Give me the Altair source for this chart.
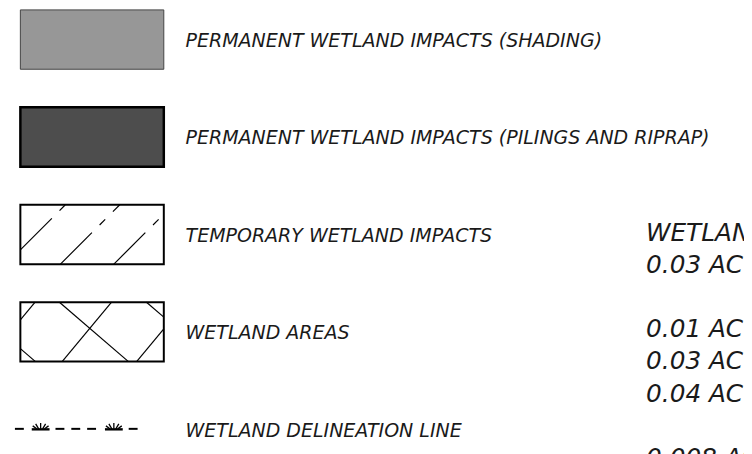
import math
import altair as alt
import pandas as pd

# ---------------- data ----------------
labels = [
    "PERMANENT WETLAND IMPACTS (SHADING)",
    "PERMANENT WETLAND IMPACTS (PILINGS AND RIPRAP)",
    "TEMPORARY WETLAND IMPACTS",
    "WETLAND AREAS",
    "WETLAND DELINEATION LINE",
]
kinds = ["shade", "solid", "hatch", "cross", "line"]

summary_lines = [
    "WETLAND IMPACTS",
    "0.03 AC PERMANENT (SHADING)",
    "",
    "0.01 AC PERMANENT (PILINGS AND RIPRAP)",
    "0.03 AC TEMPORARY",
    "0.04 AC TOTAL",
    "",
    "0.008 AC WETLAND DELINEATION",
]

# ---------------- layout (page pixel units) ----------------
W, H = 744, 446
ROW0, ROW_STEP = 37.5, 98.5
BOX_L, BOX_R, BOX_HALF = 20.5, 165.5, 30.0
LABEL_X = 187.5
SUM_X, SUM_Y0, SUM_STEP = 653.0, 233.0, 32.5

fills = {"shade": "#979797", "solid": "#4d4d4d", "hatch": "#ffffff", "cross": "#ffffff"}
strokes = {"shade": "#444444", "solid": "#000000", "hatch": "#000000", "cross": "#000000"}
stroke_w = {"shade": 1.0, "solid": 2.5, "hatch": 2.0, "cross": 2.0}


def row_center(i):
    return ROW0 + ROW_STEP * i


box_rows = []
for i, k in enumerate(kinds):
    if k == "line":
        continue
    c = row_center(i)
    box_rows.append(dict(x=BOX_L, x2=BOX_R, y=c - BOX_HALF, y2=c + BOX_HALF,
                         fill=fills[k], stroke=strokes[k], sw=stroke_w[k]))
boxes_df = pd.DataFrame(box_rows)


def clip(px, py, dx, dy, L, R, T, B):
    t0, t1 = -1e9, 1e9
    for p, d, lo, hi in ((px, dx, L, R), (py, dy, T, B)):
        if d == 0:
            if p < lo or p > hi:
                return None
            continue
        a, b = (lo - p) / d, (hi - p) / d
        t0, t1 = max(t0, min(a, b)), min(t1, max(a, b))
    if t0 >= t1:
        return None
    return t0, t1


segs = []


def add_line(px, py, dx, dy, rect, pattern=None, w=1.2):
    n = math.hypot(dx, dy)
    dx, dy = dx / n, dy / n
    r = clip(px, py, dx, dy, *rect)
    if r is None:
        return
    t0, t1 = r
    if pattern is None:
        segs.append(dict(x=px + dx * t0, y=py + dy * t0, x2=px + dx * t1, y2=py + dy * t1, w=w))
        return
    t, j = t0, 0
    while t < t1:
        ln = pattern[j % len(pattern)]
        if j % 2 == 0:
            e = min(t + ln, t1)
            segs.append(dict(x=px + dx * t, y=py + dy * t, x2=px + dx * e, y2=py + dy * e, w=w))
        t += ln
        j += 1


# temporary impacts hatch (row 2)
c2 = row_center(2)
rect2 = (BOX_L, BOX_R, c2 - BOX_HALF, c2 + BOX_HALF)
for bx in [6, 61, 115]:
    add_line(bx, c2 + BOX_HALF, 1, -1, rect2, pattern=[45, 11, 8, 11])

# wetland areas cross hatch (row 3)
c3 = row_center(3)
rect3 = (BOX_L, BOX_R, c3 - BOX_HALF, c3 + BOX_HALF)
for tx in [-34, 60, 148]:
    add_line(tx, c3 - BOX_HALF, 1, 0.86, rect3)
for bx in [-14.6, 62.7, 138]:
    add_line(bx, c3 + BOX_HALF, 1, -1.2, rect3)

# wetland delineation line (row 4)
ly = row_center(4) - 0.5
dash, gap = 9, 7
dash_starts = [-1, 15]
sym_starts = [32, 106]
for s in sym_starts:
    e = s + 18
    dash_starts += [e + 6, e + 6 + dash + gap, e + 6 + 2 * (dash + gap)]
for d0 in dash_starts:
    if d0 < 145:
        segs.append(dict(x=d0, y=ly, x2=min(d0 + dash, 145), y2=ly, w=2.0))
for s in sym_starts:
    segs.append(dict(x=s, y=ly + 0.5, x2=s + 18, y2=ly + 0.5, w=2.4))
    m = s + 9
    for (ax, bx_, by) in [(0, 0, -6), (-2, -5, -5), (-4, -8, -3), (2, 5, -5), (4, 8, -3)]:
        segs.append(dict(x=m + ax, y=ly, x2=m + bx_, y2=ly + by, w=1.3))
segs_df = pd.DataFrame(segs)

labels_df = pd.DataFrame({"label": labels,
                          "x": [LABEL_X] * len(labels),
                          "y": [row_center(i) + 1.5 for i in range(len(labels))]})

sum_df = pd.DataFrame({"line": summary_lines,
                       "x": [SUM_X] * len(summary_lines),
                       "y": [SUM_Y0 + SUM_STEP * i for i in range(len(summary_lines))]})
sum_df = sum_df[sum_df["line"] != ""]

xs = alt.Scale(domain=[8, 8 + W], range=[0, W], nice=False, zero=False)
ys = alt.Scale(domain=[8, 8 + H], range=[0, H], nice=False, zero=False)

boxes = alt.Chart(boxes_df).mark_rect().encode(
    x=alt.X("x:Q", scale=xs, axis=None),
    x2="x2:Q",
    y=alt.Y("y:Q", scale=ys, axis=None),
    y2="y2:Q",
    fill=alt.Fill("fill:N", scale=None),
    stroke=alt.Stroke("stroke:N", scale=None),
    strokeWidth=alt.StrokeWidth("sw:Q", scale=None),
)

lines = alt.Chart(segs_df).mark_rule(color="#000000", strokeCap="butt").encode(
    x=alt.X("x:Q", scale=xs, axis=None),
    x2="x2:Q",
    y=alt.Y("y:Q", scale=ys, axis=None),
    y2="y2:Q",
    strokeWidth=alt.StrokeWidth("w:Q", scale=None),
)

label_text = alt.Chart(labels_df).mark_text(
    align="left", baseline="middle", font="DejaVu Sans", fontStyle="italic",
    fontSize=19.2, color="#1a1a1a",
).encode(
    x=alt.X("x:Q", scale=xs, axis=None),
    y=alt.Y("y:Q", scale=ys, axis=None),
    text="label:N",
)

summary_text = alt.Chart(sum_df).mark_text(
    align="left", baseline="middle", font="DejaVu Sans", fontStyle="italic",
    fontSize=25, color="#1a1a1a",
).encode(
    x=alt.X("x:Q", scale=xs, axis=None),
    y=alt.Y("y:Q", scale=ys, axis=None),
    text="line:N",
)

chart = alt.layer(boxes, lines, label_text, summary_text).properties(
    width=W, height=H, padding=0,
    autosize=alt.AutoSizeParams(type="none"),
    background="#ffffff",
).configure_view(strokeWidth=0)

chart.save("out.html", embed_options={"renderer": "svg", "actions": False})
